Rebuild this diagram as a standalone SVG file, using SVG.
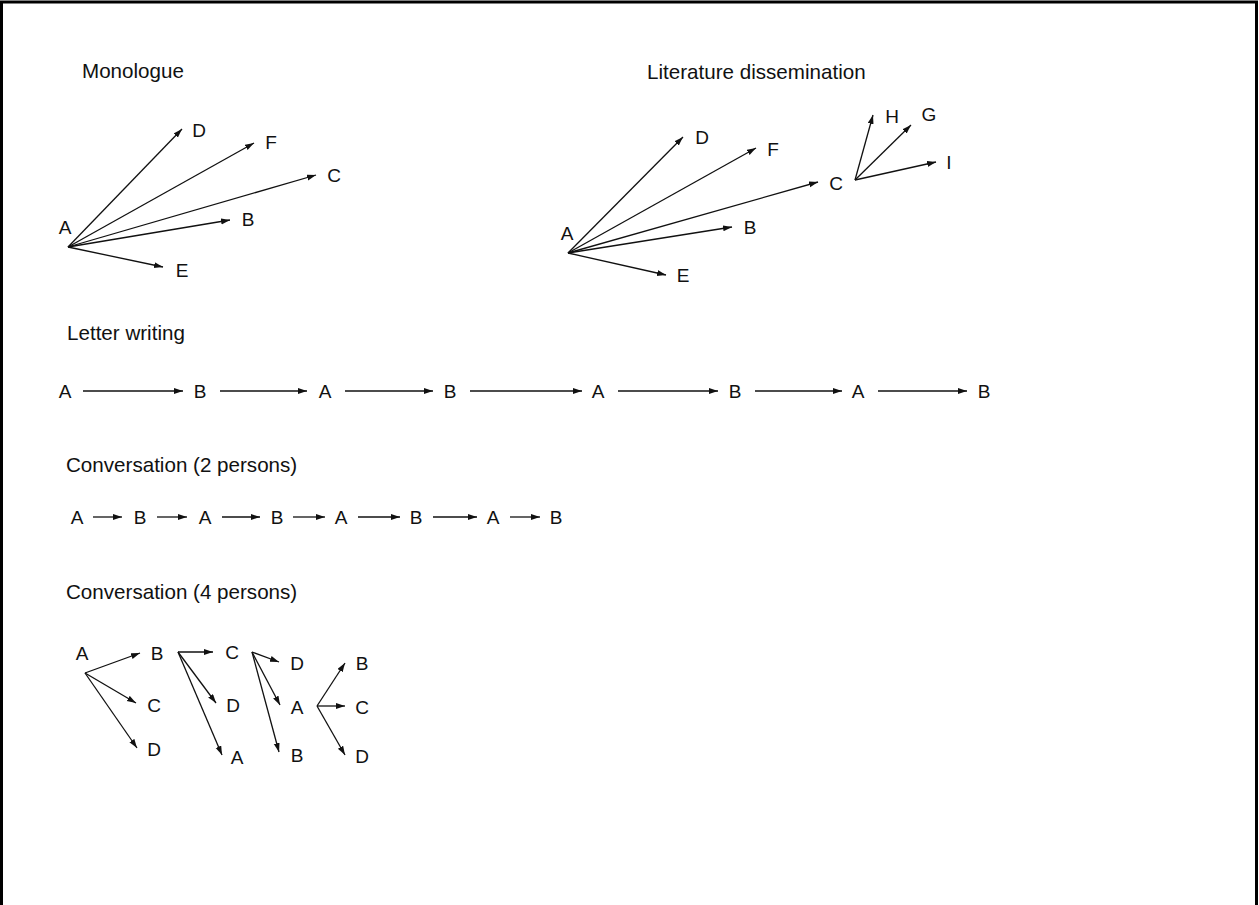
<svg xmlns="http://www.w3.org/2000/svg" width="1259" height="905" viewBox="0 0 1259 905">
<defs>
<marker id="ah" markerUnits="userSpaceOnUse" markerWidth="10" markerHeight="7" refX="9" refY="3" orient="auto">
<path d="M0,0 L9,3 L0,6 z" fill="#111"/>
</marker>
<style>
.t{font-family:"Liberation Sans",Arial,sans-serif;font-size:20.6px;fill:#111}
.n{font-family:"Liberation Sans",Arial,sans-serif;font-size:19px;fill:#111;text-anchor:middle}
.c line{stroke:#111;stroke-width:1.3;marker-end:url(#ah)}
</style>
</defs>
<rect x="0" y="0" width="1259" height="905" fill="#fff"/>
<rect x="1.5" y="2" width="1255" height="930" fill="none" stroke="#000" stroke-width="3"/>

<g id="titles">
<text class="t" x="82" y="78">Monologue</text>
<text class="t" x="647" y="79">Literature dissemination</text>
<text class="t" x="67" y="340">Letter writing</text>
<text class="t" x="66" y="472">Conversation (2 persons)</text>
<text class="t" x="66" y="599">Conversation (4 persons)</text>
</g>

<g id="connectors" class="c">
<!-- Monologue -->
<line x1="68" y1="247" x2="182" y2="129"/>
<line x1="68" y1="247" x2="254" y2="143"/>
<line x1="68" y1="247" x2="316" y2="175"/>
<line x1="68" y1="247" x2="230" y2="220"/>
<line x1="68" y1="247" x2="163" y2="267"/>
<!-- Literature -->
<line x1="568" y1="253" x2="683" y2="137"/>
<line x1="568" y1="253" x2="756" y2="148"/>
<line x1="568" y1="253" x2="818" y2="182"/>
<line x1="568" y1="253" x2="732" y2="227"/>
<line x1="568" y1="253" x2="666" y2="275"/>
<line x1="855" y1="180" x2="873" y2="115"/>
<line x1="855" y1="180" x2="911" y2="125"/>
<line x1="855" y1="180" x2="936" y2="162"/>
<!-- Letter writing -->
<line x1="83" y1="391" x2="183" y2="391"/>
<line x1="220" y1="391" x2="307" y2="391"/>
<line x1="345" y1="391" x2="433" y2="391"/>
<line x1="470" y1="391" x2="582" y2="391"/>
<line x1="618" y1="391" x2="718" y2="391"/>
<line x1="755" y1="391" x2="842" y2="391"/>
<line x1="878" y1="391" x2="967" y2="391"/>
<!-- Conversation 2 -->
<line x1="93" y1="517" x2="122" y2="517"/>
<line x1="157" y1="517" x2="187" y2="517"/>
<line x1="222" y1="517" x2="260" y2="517"/>
<line x1="293" y1="517" x2="325" y2="517"/>
<line x1="358" y1="517" x2="400" y2="517"/>
<line x1="433" y1="517" x2="477" y2="517"/>
<line x1="510" y1="517" x2="540" y2="517"/>
<!-- Conversation 4 -->
<line x1="85" y1="673" x2="140" y2="653"/>
<line x1="85" y1="673" x2="136" y2="703"/>
<line x1="85" y1="673" x2="137" y2="748"/>
<line x1="178" y1="652" x2="213" y2="652"/>
<line x1="178" y1="652" x2="216" y2="703"/>
<line x1="178" y1="652" x2="222" y2="755"/>
<line x1="252" y1="652" x2="279" y2="662"/>
<line x1="252" y1="652" x2="280" y2="705"/>
<line x1="252" y1="652" x2="279" y2="752"/>
<line x1="317" y1="706" x2="345" y2="663"/>
<line x1="317" y1="706" x2="345" y2="706"/>
<line x1="317" y1="706" x2="345" y2="755"/>
</g>

<g id="monologue">
<text class="n" x="65" y="234">A</text>
<text class="n" x="199" y="137">D</text>
<text class="n" x="271" y="149">F</text>
<text class="n" x="334" y="182">C</text>
<text class="n" x="248" y="226">B</text>
<text class="n" x="182" y="277">E</text>
</g>

<g id="literature">
<text class="n" x="567" y="240">A</text>
<text class="n" x="702" y="144">D</text>
<text class="n" x="773" y="156">F</text>
<text class="n" x="836" y="190">C</text>
<text class="n" x="892" y="123">H</text>
<text class="n" x="929" y="121">G</text>
<text class="n" x="949" y="169">I</text>
<text class="n" x="750" y="234">B</text>
<text class="n" x="683" y="282">E</text>
</g>

<g id="letter-writing">
<text class="n" x="65" y="398">A</text>
<text class="n" x="200" y="398">B</text>
<text class="n" x="325" y="398">A</text>
<text class="n" x="450" y="398">B</text>
<text class="n" x="598" y="398">A</text>
<text class="n" x="735" y="398">B</text>
<text class="n" x="858" y="398">A</text>
<text class="n" x="984" y="398">B</text>
</g>

<g id="conversation-2">
<text class="n" x="77" y="524">A</text>
<text class="n" x="140" y="524">B</text>
<text class="n" x="205" y="524">A</text>
<text class="n" x="277" y="524">B</text>
<text class="n" x="341" y="524">A</text>
<text class="n" x="416" y="524">B</text>
<text class="n" x="493" y="524">A</text>
<text class="n" x="556" y="524">B</text>
</g>

<g id="conversation-4">
<text class="n" x="82" y="660">A</text>
<text class="n" x="157" y="660">B</text>
<text class="n" x="154" y="712">C</text>
<text class="n" x="154" y="756">D</text>
<text class="n" x="232" y="659">C</text>
<text class="n" x="233" y="712">D</text>
<text class="n" x="237" y="764">A</text>
<text class="n" x="297" y="670">D</text>
<text class="n" x="297" y="714">A</text>
<text class="n" x="297" y="762">B</text>
<text class="n" x="362" y="670">B</text>
<text class="n" x="362" y="714">C</text>
<text class="n" x="362" y="763">D</text>
</g>
</svg>
